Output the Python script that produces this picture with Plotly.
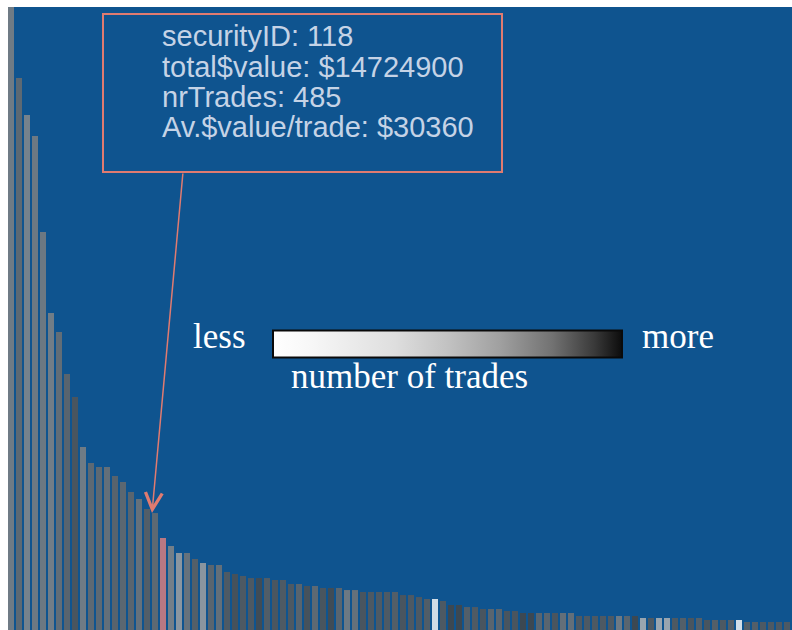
# Securities ranked by total traded $ value; bar shade = number of trades,
# one highlighted security (pink) and a callout box for security 118.
import plotly.graph_objects as go

# --- data -------------------------------------------------------------------
rank = list(range(1, 99))

# total $ value per security, in $M, sorted descending
total_value_m = [
    79.5, 69.47, 64.81, 62.17, 50.09, 39.90, 37.50, 32.22, 29.32, 23.03,
    21.02, 20.51, 20.51, 19.38, 18.63, 17.37, 16.49, 15.23, 14.72, 11.58,
    10.57, 9.69, 9.69, 8.94, 8.43, 8.18, 8.18, 7.30, 7.05, 6.80,
    6.54, 6.54, 6.54, 6.29, 6.29, 5.79, 5.79, 5.54, 5.54, 5.29,
    5.29, 5.29, 5.03, 5.03, 4.78, 4.78, 4.78, 4.78, 4.78, 4.40,
    4.40, 4.15, 3.90, 3.90, 3.65, 3.15, 3.15, 2.89, 2.89, 2.64,
    2.64, 2.64, 2.39, 2.39, 2.14, 2.14, 2.14, 2.14, 2.14, 2.14,
    2.14, 1.76, 1.76, 1.76, 1.76, 1.76, 1.76, 1.76, 1.76, 1.51,
    1.51, 1.51, 1.51, 1.51, 1.51, 1.51, 1.51, 1.26, 1.26, 1.26,
    1.26, 1.26, 1.01, 1.01, 1.01, 1.01, 1.01, 1.01,
]

# number of trades per security (drives the grey shade)
nr_trades = [
    447, 487, 429, 451, 453, 441, 480, 494, 516, 447,
    485, 487, 475, 495, 489, 492, 470, 503, 485, 480,
    437, 382, 468, 501, 386, 492, 475, 508, 523, 511,
    511, 531, 504, 515, 508, 511, 493, 521, 487, 516,
    531, 491, 451, 470, 516, 511, 508, 508, 503, 516,
    511, 511, 504, 60, 511, 536, 536, 500, 508, 516,
    492, 492, 516, 516, 536, 536, 492, 492, 516, 474,
    474, 511, 511, 511, 511, 511, 451, 492, 536, 332,
    511, 332, 332, 511, 501, 516, 501, 516, 501, 511,
    501, 40, 501, 501, 511, 511, 511, 511,
]

highlight_idx = 19          # pink bar
callout_idx = 18            # security the callout arrow points at
callout_lines = [
    "securityID: 118",
    "total$value: $14724900",
    "nrTrades: 485",
    "Av.$value/trade: $30360",
]

BG = "#0f548f"
SALMON = "#e07b70"
GREYS = [[0, "#ffffff"], [0.1, "#f8f8f8"], [0.35, "#dedede"], [0.5, "#c2c2c2"],
         [0.65, "#a0a0a0"], [0.8, "#727272"], [0.92, "#3a3a3a"], [1, "#0c0c0c"]]
SERIF = "Liberation Serif, Times New Roman, serif"
SANS = "Liberation Sans, Arial, sans-serif"

W, H = 792, 630
ML, MT = 8, 7
PW, PH = W - ML, H - MT


def px(x):   # page pixel -> paper x
    return (x - ML) / PW


def py(y):   # page pixel -> paper y
    return 1 - (y - MT) / PH


fig = go.Figure()
fig.add_trace(go.Bar(
    x=rank, y=total_value_m,
    marker=dict(
        color=nr_trades, colorscale=GREYS, cmin=0, cmax=600, opacity=0.83,
        line=dict(width=0),
        colorbar=dict(
            orientation="h", x=px(447.5), xanchor="center",
            y=py(344.5), yanchor="middle",
            len=349, lenmode="pixels", thickness=27,
            xpad=0, ypad=0,
            outlinewidth=2, outlinecolor="#0a0a0a",
            tickvals=[], ticks="",
        ),
    ),
    hoverinfo="skip", showlegend=False,
))
fig.add_trace(go.Bar(
    x=[rank[highlight_idx]], y=[total_value_m[highlight_idx]],
    marker=dict(color="#b97883", line=dict(width=0)),
    hoverinfo="skip", showlegend=False,
))

# callout box + text
fig.add_shape(type="rect", xref="paper", yref="paper",
              x0=px(103), x1=px(502), y0=py(172), y1=py(14),
              line=dict(color=SALMON, width=2))
for i, line in enumerate(callout_lines):
    fig.add_annotation(xref="paper", yref="paper", x=px(160), y=py(36 + 30.5 * i),
                       xanchor="left", yanchor="middle", showarrow=False,
                       text=line, font=dict(family=SANS, size=29, color="#c5d3e6"))

# arrow from the box to the bar
fig.add_annotation(x=rank[callout_idx], y=total_value_m[callout_idx], text="",
                   xshift=-3, ax=31, ay=-341, showarrow=True,
                   arrowhead=5, arrowsize=2.2, arrowwidth=1.5, arrowcolor=SALMON)

# colour legend labels
legend_font = dict(family=SERIF, size=35, color="white")
fig.add_annotation(xref="paper", yref="paper", x=px(248), y=py(336),
                   xanchor="right", yanchor="middle", showarrow=False,
                   text="less", font=legend_font)
fig.add_annotation(xref="paper", yref="paper", x=px(640), y=py(336),
                   xanchor="left", yanchor="middle", showarrow=False,
                   text="more", font=legend_font)
fig.add_annotation(xref="paper", yref="paper", x=px(289), y=py(376),
                   xanchor="left", yanchor="middle", showarrow=False,
                   text="number of trades", font=legend_font)

fig.update_layout(
    width=W, height=H, autosize=False,
    margin=dict(l=ML, r=0, t=MT, b=0, pad=0),
    paper_bgcolor="white", plot_bgcolor=BG,
    barmode="overlay", bargap=0.25,
    xaxis=dict(visible=False, range=[rank[0] - 0.375, rank[0] + 97.625]),
    yaxis=dict(visible=False, range=[0, 78.41]),
)

# figure fills the window exactly: drop the default body margin
fig.write_html("out.html", config={"displayModeBar": False},
               post_script="document.body.style.margin = '0'; "
                           "document.body.style.overflow = 'hidden';")
